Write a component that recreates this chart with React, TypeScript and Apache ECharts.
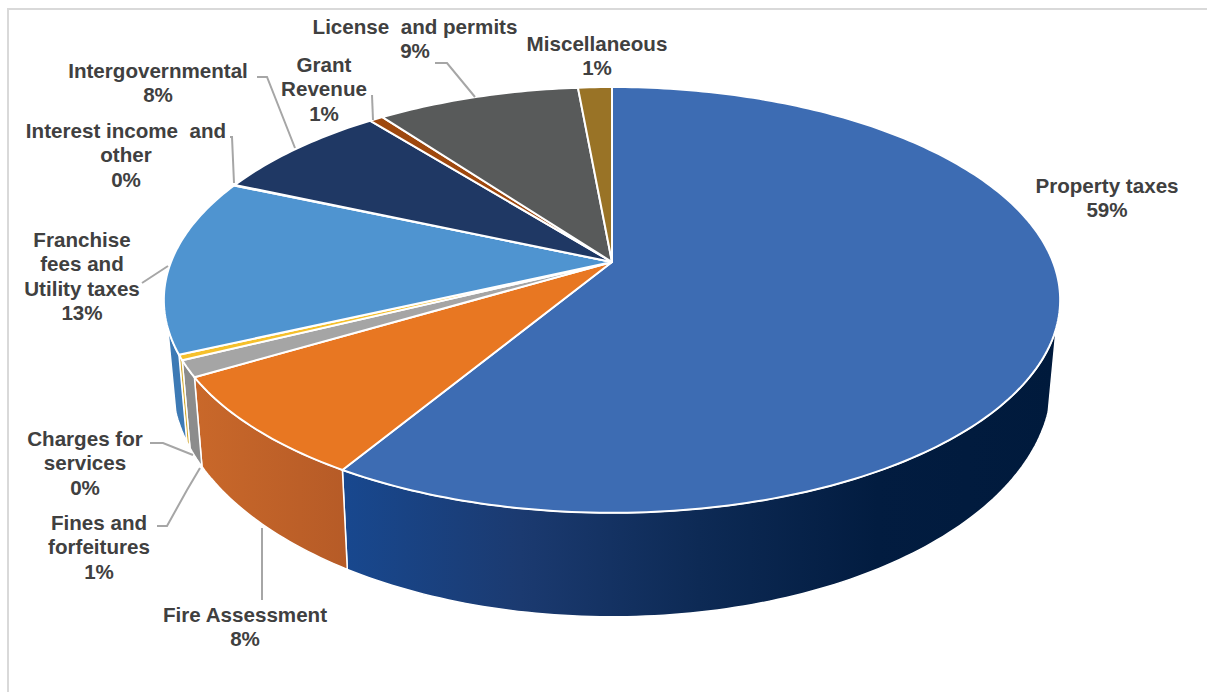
import React, { useEffect, useRef } from "react";
import * as echarts from "echarts";

// Revenue shares, clockwise from twelve o'clock.
const categories = [
  "Property taxes",
  "Fire Assessment",
  "Fines and\nforfeitures",
  "Charges for\nservices",
  "Franchise\nfees and\nUtility taxes",
  "Interest income  and\nother",
  "Intergovernmental",
  "Grant\nRevenue",
  "License  and permits",
  "Miscellaneous",
];
const shares = [58.7, 7.85, 1.25, 0.4, 13.35, 0.05, 7.7, 0.6, 8.7, 1.45];

const topColors = [
  "#3d6cb3", "#e87722", "#a5a5a5", "#f5c02c", "#4f94d0",
  "#70ad47", "#1f3864", "#9e480e", "#585a5a", "#997326",
];
const wallStops: string[][] = [
  ["#18488f", "#1b3a70", "#0d2a55", "#021c40", "#001a3c"],
  ["#c9682a", "#b65b27"],
  ["#8c8c8c", "#8c8c8c"],
  ["#d4aa30", "#d4aa30"],
  ["#3d7ab5", "#3d7ab5"],
  ["#5c9439", "#5c9439"],
  ["#1a2f55", "#1a2f55"],
  ["#85390a", "#85390a"],
  ["#4a4c4c", "#4a4c4c"],
  ["#80601f", "#80601f"],
];

// Label anchors: centre x and top y of the text block, one per category.
const labelX = [1107, 245, 99, 85, 82, 126, 158, 324, 415, 597];
const labelY = [173, 602, 510, 426, 227, 118, 58, 52, 14, 31];

// Leader lines, one per category; the property slice has none.
const leaders: number[][][] = [
  [],
  [[262, 528], [262, 600]],
  [[157, 526], [167, 526], [187, 490], [200, 468]],
  [[150, 443], [163, 443], [193, 455]],
  [[142, 283], [168, 266]],
  [[230, 137], [232, 137], [234, 183]],
  [[257, 77], [267, 77], [295, 148]],
  [[372, 95], [373, 120]],
  [[435, 63], [447, 63], [475, 97]],
  [],
];

// Perspective projection of the pie's two circular faces onto the page.
const CX = 612;
const TILT = -0.178;
const topFace = { a: 159.5, b: 262, d: 441 };
const bottomFace = { a: 168, b: 339, d: 433 };
// The outer wall is visible only between these clockwise angles.
const WALL_FROM = 107.6;
const WALL_TO = 252.4;

const total = shares.reduce((s, v) => s + v, 0);
const startAngle = (index: number) =>
  (shares.slice(0, index).reduce((s, v) => s + v, 0) / total) * 360;

function project(deg: number, face: { a: number; b: number; d: number }) {
  const rad = (deg * Math.PI) / 180;
  const x = Math.sin(rad);
  const y = -Math.cos(rad);
  const w = 1 + TILT * y;
  return [CX + (face.d * x) / w, (face.a * y + face.b) / w];
}

function arc(from: number, to: number, face: { a: number; b: number; d: number }) {
  const pts: number[][] = [];
  const steps = Math.max(1, Math.ceil(to - from));
  for (let i = 0; i <= steps; i++) pts.push(project(from + ((to - from) * i) / steps, face));
  return pts;
}

const renderWall = (params: any, api: any) => {
  const i = params.dataIndex;
  const from = Math.max(startAngle(i), WALL_FROM);
  const to = Math.min(startAngle(i) + (api.value(0) / total) * 360, WALL_TO);
  if (to <= from) return { type: "group", children: [] };
  const points = [...arc(from, to, topFace), ...arc(from, to, bottomFace).reverse()];
  const stops = wallStops[i];
  return {
    type: "polygon",
    shape: { points },
    style: {
      fill: new echarts.graphic.LinearGradient(
        0, 0, 1, 0,
        stops.map((color, k) => ({ offset: k / (stops.length - 1), color })),
      ),
      stroke: "#ffffff",
      lineWidth: 1.5,
      lineJoin: "round",
    },
  };
};

const renderTop = (params: any, api: any) => {
  const i = params.dataIndex;
  const from = startAngle(i);
  const to = from + (api.value(0) / total) * 360;
  return {
    type: "polygon",
    shape: { points: [[CX, topFace.b], ...arc(from, to, topFace)] },
    style: { fill: topColors[i], stroke: "#ffffff", lineWidth: 2, lineJoin: "round" },
  };
};

const renderCallout = (params: any, api: any) => {
  const i = params.dataIndex;
  const children: any[] = [
    {
      type: "text",
      x: labelX[i],
      y: labelY[i],
      style: {
        text: `${categories[i]}\n${Math.round(api.value(0))}%`,
        fill: "#404040",
        font: 'bold 20.6px "Liberation Sans", Arial, sans-serif',
        lineHeight: 24.4,
        align: "center",
        verticalAlign: "top",
      },
    },
  ];
  if (leaders[i].length) {
    children.push({
      type: "polyline",
      shape: { points: leaders[i] },
      style: { fill: "none", stroke: "#a6a6a6", lineWidth: 2 },
    });
  }
  return { type: "group", children };
};

export default function App() {
  const ref = useRef<HTMLDivElement>(null);

  useEffect(() => {
    const chart = echarts.init(ref.current!, undefined, { renderer: "svg" });
    const rows = shares.map((v) => [v]);
    const base = { type: "custom", coordinateSystem: "none", data: rows, silent: true, clip: false };
    chart.setOption({
      animation: false,
      backgroundColor: "#ffffff",
      graphic: [
        { type: "line", shape: { x1: 8, y1: 9, x2: 1207, y2: 9 }, style: { stroke: "#d9d9d9", lineWidth: 2 } },
        { type: "line", shape: { x1: 8, y1: 8, x2: 8, y2: 692 }, style: { stroke: "#d9d9d9", lineWidth: 2 } },
      ],
      series: [
        { ...base, z: 2, renderItem: renderWall },
        { ...base, z: 3, renderItem: renderTop },
        { ...base, z: 4, renderItem: renderCallout },
      ],
    });
    return () => chart.dispose();
  }, []);

  return <div ref={ref} style={{ position: "absolute", left: 0, top: 0, width: 1207, height: 692 }} />;
}
